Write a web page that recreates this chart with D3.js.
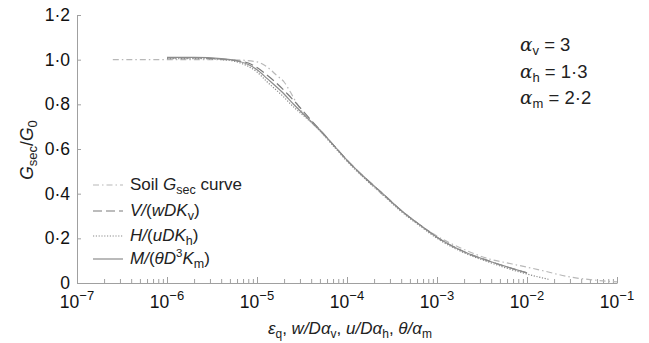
<!DOCTYPE html>
<html>
<head>
<meta charset="utf-8">
<script src="https://cdn.jsdelivr.net/npm/d3@7"></script>
<style>
  body { margin: 0; background: #fff; }
  svg { display: block; font-family: "Liberation Sans", Arial, sans-serif; }
</style>
</head>
<body>
<svg id="chart" width="649" height="343"></svg>
<script>
// strain-like normalised displacement (x) vs stiffness ratio (y)
const soilX = [2.5e-7, 5e-7, 1e-6, 2e-6, 5e-6, 1e-5, 1.3e-5, 1.65e-5, 2e-5, 2.35e-5, 2.75e-5, 3.25e-5, 4e-5, 5e-5, 7e-5, 1e-4, 2e-4, 4e-4, 7e-4, 1e-3, 2e-3, 4e-3, 6e-3, 1.4e-2, 3e-2, 6e-2, 1e-1];
const soilY = [1.0, 1.0, 1.0, 1.0, 1.0, 0.99, 0.967, 0.93, 0.9, 0.855, 0.806, 0.761, 0.72, 0.685, 0.62, 0.55, 0.43, 0.325, 0.25, 0.21, 0.15, 0.105, 0.09, 0.058, 0.027, 0.012, 0.005];

const vertX = [1e-6, 2e-6, 4e-6, 6e-6, 8e-6, 1e-5, 1.3e-5, 1.7e-5, 2.2e-5, 2.8e-5, 3.5e-5, 5e-5, 7e-5, 1e-4, 1.5e-4, 2.5e-4, 4e-4, 7e-4, 1e-3, 2e-3, 4e-3, 6e-3, 1e-2];
const vertY = [1.008, 1.008, 1.003, 0.995, 0.985, 0.965, 0.93, 0.89, 0.845, 0.8, 0.755, 0.685, 0.62, 0.55, 0.48, 0.4, 0.325, 0.25, 0.205, 0.14, 0.095, 0.072, 0.045];

const horX = [1e-6, 2e-6, 4e-6, 6e-6, 8e-6, 1e-5, 1.3e-5, 1.9e-5, 2.6e-5, 3.5e-5, 5e-5, 7e-5, 1e-4, 1.5e-4, 2.5e-4, 4e-4, 7e-4, 1e-3, 2e-3, 4e-3, 6e-3, 1e-2, 1.8e-2];
const horY = [1.005, 1.005, 1.0, 0.99, 0.97, 0.945, 0.9, 0.84, 0.785, 0.74, 0.68, 0.615, 0.545, 0.475, 0.395, 0.32, 0.245, 0.2, 0.135, 0.09, 0.066, 0.04, 0.015];

const momX = [1e-6, 2e-6, 4e-6, 6e-6, 8e-6, 1e-5, 1.3e-5, 1.9e-5, 2.6e-5, 3.5e-5, 5e-5, 7e-5, 1e-4, 1.5e-4, 2.5e-4, 4e-4, 7e-4, 1e-3, 2e-3, 4e-3, 6e-3, 1e-2];
const momY = [1.01, 1.01, 1.005, 0.995, 0.978, 0.955, 0.915, 0.855, 0.797, 0.745, 0.685, 0.62, 0.55, 0.48, 0.4, 0.325, 0.25, 0.205, 0.14, 0.095, 0.072, 0.045];

const yTicks = [0, 0.2, 0.4, 0.6, 0.8, 1.0, 1.2];
const yTickLabels = ['0', '0·2', '0·4', '0·6', '0·8', '1·0', '1·2'];
const xMajor = [1e-7, 1e-6, 1e-5, 1e-4, 1e-3, 1e-2, 1e-1];
const xExpLabels = ['−7', '−6', '−5', '−4', '−3', '−2', '−1'];

const alphaNames = ['v', 'h', 'm'];
const alphaValues = ['3', '1·3', '2·2'];

const svg = d3.select('#chart');
const axisColor = '#a0a0a0';

const x = d3.scaleLog().domain([1e-7, 1e-1]).range([77, 617]);
const y = d3.scaleLinear().domain([0, 1.2]).range([283, 15]);

// x axis: minor ticks, then majors
const xAllTicks = x.ticks();
svg.append('g')
  .attr('transform', `translate(0,${y(0)})`)
  .call(d3.axisBottom(x).tickValues(xAllTicks).tickSizeInner(-4).tickSizeOuter(0).tickFormat(''));
svg.append('g')
  .attr('transform', `translate(0,${y(0)})`)
  .call(d3.axisBottom(x).tickValues(xMajor).tickSizeInner(-6).tickSizeOuter(0).tickFormat(''))
  .select('.domain').remove();
svg.selectAll('.tick line, .domain').attr('stroke', axisColor);

xMajor.forEach((v, i) => {
  const t = svg.append('text')
    .attr('x', x(v))
    .attr('y', 308)
    .attr('text-anchor', 'middle')
    .attr('font-size', 17.5)
    .attr('fill', '#111');
  t.append('tspan').text('10');
  t.append('tspan').attr('dy', -8).attr('font-size', 13).text(xExpLabels[i]);
});

// y axis
const gy = svg.append('g')
  .attr('transform', `translate(${x(1e-7)},0)`)
  .call(d3.axisLeft(y).tickValues(yTicks).tickSizeInner(-4).tickSizeOuter(0).tickPadding(7)
    .tickFormat((d, i) => yTickLabels[i]));
gy.selectAll('.tick line, .domain').attr('stroke', axisColor);
gy.selectAll('text').attr('font-size', 17.5).attr('fill', '#111').attr('font-family', '"Liberation Sans", Arial, sans-serif');

// series
const line = d3.line()
  .x(d => x(d[0]))
  .y(d => y(d[1]))
  .curve(d3.curveMonotoneX);

const series = [
  { name: 'soil', xs: soilX, ys: soilY, color: '#b8b8b8', dash: '6,3,1.5,3', width: 1.2 },
  { name: 'V', xs: vertX, ys: vertY, color: '#7a7a7a', dash: '9,4', width: 1.2 },
  { name: 'H', xs: horX, ys: horY, color: '#8a8a8a', dash: '1.2,1.6', width: 1.2 },
  { name: 'M', xs: momX, ys: momY, color: '#8c8c8c', dash: null, width: 1.2 }
];

series.forEach(s => {
  svg.append('path')
    .datum(s.xs.map((v, i) => [v, s.ys[i]]))
    .attr('fill', 'none')
    .attr('stroke', s.color)
    .attr('stroke-width', s.width)
    .attr('stroke-dasharray', s.dash)
    .attr('d', line);
});

// legend
const legendRows = [185, 211, 236, 259];
const legend = svg.append('g');
series.forEach((s, i) => {
  legend.append('line')
    .attr('x1', 93).attr('x2', 123)
    .attr('y1', legendRows[i]).attr('y2', legendRows[i])
    .attr('stroke', s.color)
    .attr('stroke-width', 1.2)
    .attr('stroke-dasharray', s.dash);
});

function legendText(i) {
  return legend.append('text')
    .attr('x', 130)
    .attr('y', legendRows[i] + 5)
    .attr('font-size', 17)
    .attr('fill', '#222');
}
let lt = legendText(0);
lt.append('tspan').text('Soil ');
lt.append('tspan').attr('font-style', 'italic').text('G');
lt.append('tspan').attr('dy', 4).attr('font-size', 12.5).text('sec');
lt.append('tspan').attr('dy', -4).text(' curve');

lt = legendText(1);
lt.append('tspan').attr('font-style', 'italic').text('V/');
lt.append('tspan').text('(');
lt.append('tspan').attr('font-style', 'italic').text('wDK');
lt.append('tspan').attr('dy', 4).attr('font-size', 12.5).text('v');
lt.append('tspan').attr('dy', -4).text(')');

lt = legendText(2);
lt.append('tspan').attr('font-style', 'italic').text('H/');
lt.append('tspan').text('(');
lt.append('tspan').attr('font-style', 'italic').text('uDK');
lt.append('tspan').attr('dy', 4).attr('font-size', 12.5).text('h');
lt.append('tspan').attr('dy', -4).text(')');

lt = legendText(3);
lt.append('tspan').attr('font-style', 'italic').text('M/');
lt.append('tspan').text('(');
lt.append('tspan').attr('font-style', 'italic').text('θD');
lt.append('tspan').attr('dy', -7).attr('font-size', 11.5).text('3');
lt.append('tspan').attr('dy', 7).attr('font-style', 'italic').text('K');
lt.append('tspan').attr('dy', 4).attr('font-size', 12.5).text('m');
lt.append('tspan').attr('dy', -4).text(')');

// alpha annotations
alphaNames.forEach((n, i) => {
  const t = svg.append('text')
    .attr('x', 520)
    .attr('y', 51 + i * 26.5)
    .attr('font-size', 18.5)
    .attr('fill', '#222');
  t.append('tspan').attr('font-style', 'italic').attr('font-family', '"DejaVu Serif", serif').text('α');
  t.append('tspan').attr('dy', 4).attr('font-size', 13).text(n);
  t.append('tspan').attr('dy', -4).text(' = ' + alphaValues[i]);
});

// axis titles
const yt = svg.append('text')
  .attr('transform', 'translate(33,150) rotate(-90)')
  .attr('text-anchor', 'middle')
  .attr('font-size', 17.5)
  .attr('fill', '#222');
yt.append('tspan').attr('font-style', 'italic').text('G');
yt.append('tspan').attr('dy', 4).attr('font-size', 13).text('sec');
yt.append('tspan').attr('dy', -4).text('/');
yt.append('tspan').attr('font-style', 'italic').text('G');
yt.append('tspan').attr('dy', 4).attr('font-size', 13).text('0');

const xt = svg.append('text')
  .attr('x', 350)
  .attr('y', 334)
  .attr('text-anchor', 'middle')
  .attr('font-size', 17)
  .attr('fill', '#222');
const xtParts = [
  ['ε', 'i'], ['q', 's'], [', ', 'n'], ['w/D', 'i'], ['α', 'i'], ['v', 's'],
  [', ', 'n'], ['u/D', 'i'], ['α', 'i'], ['h', 's'], [', ', 'n'], ['θ/α', 'i'], ['m', 's']
];
let lowered = false;
xtParts.forEach(([txt, kind]) => {
  const sp = xt.append('tspan').text(txt);
  if (kind === 's') {
    sp.attr('dy', lowered ? 0 : 4).attr('font-size', 12);
    lowered = true;
  } else {
    if (lowered) sp.attr('dy', -4);
    lowered = false;
    if (kind === 'i') sp.attr('font-style', 'italic');
  }
});
</script>
</body>
</html>
